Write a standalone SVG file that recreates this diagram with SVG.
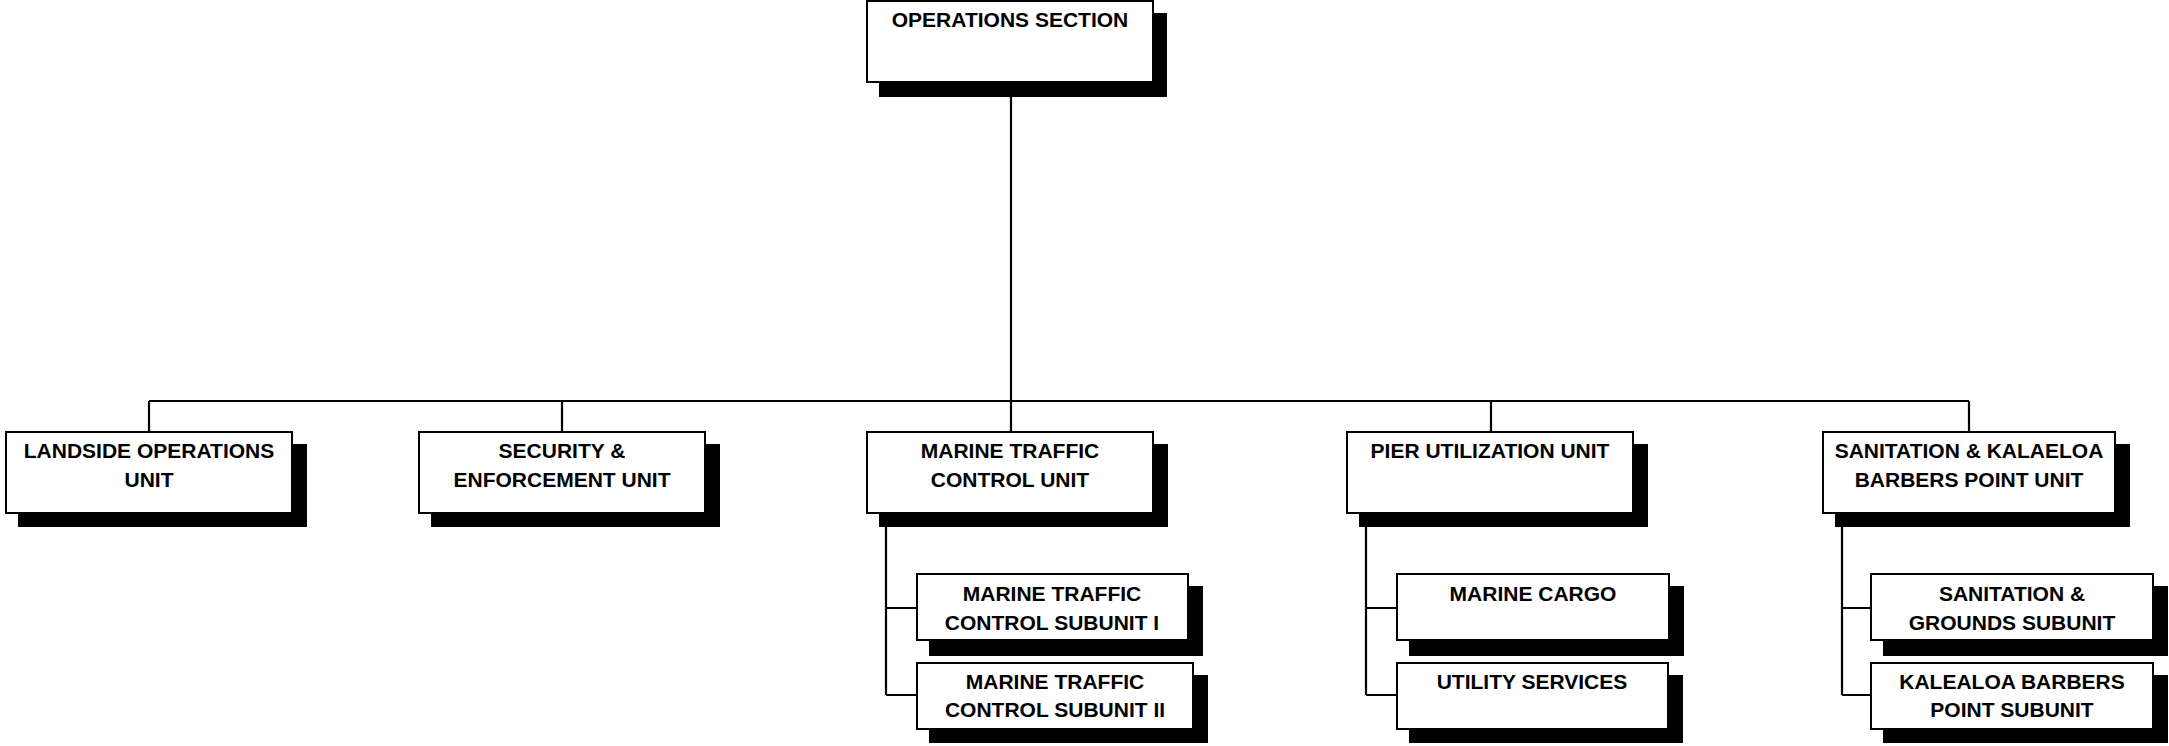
<svg xmlns="http://www.w3.org/2000/svg" width="2169" height="746" viewBox="0 0 2169 746">
<style>
.box{fill:#fff;stroke:#000;stroke-width:2}
.sh{fill:#000}
.ln{fill:none;stroke:#000;stroke-width:2.2}
text{font-family:"Liberation Sans",Arial,sans-serif;font-weight:bold;font-size:21px;text-anchor:middle;fill:#000}
</style>
<rect width="2169" height="746" fill="#fff"/>
<g id="connectors">
<path class="ln" d="M1011,82 V401 M149,401 H1969 M149,401 V432 M562,401 V432 M1011,401 V432 M1491,401 V432 M1969,401 V432"/>
<path class="ln" d="M886,513 V695 M886,608 H917 M886,695 H917"/>
<path class="ln" d="M1366,513 V695 M1366,608 H1397 M1366,695 H1397"/>
<path class="ln" d="M1842,513 V695 M1842,608 H1871 M1842,695 H1871"/>
</g>
<g id="ops">
<rect class="sh" x="879" y="13" width="288" height="84"/>
<rect class="box" x="867" y="1" width="286" height="81"/>
<text x="1010" y="27">OPERATIONS SECTION</text>
</g>
<g id="landside">
<rect class="sh" x="18" y="444" width="289" height="83"/>
<rect class="box" x="6" y="432" width="286" height="81"/>
<text x="149" y="458">LANDSIDE OPERATIONS</text>
<text x="149" y="487">UNIT</text>
</g>
<g id="security">
<rect class="sh" x="431" y="444" width="289" height="83"/>
<rect class="box" x="419" y="432" width="286" height="81"/>
<text x="562" y="458">SECURITY &amp;</text>
<text x="562" y="487">ENFORCEMENT UNIT</text>
</g>
<g id="mtcu">
<rect class="sh" x="879" y="444" width="289" height="83"/>
<rect class="box" x="867" y="432" width="286" height="81"/>
<text x="1010" y="458">MARINE TRAFFIC</text>
<text x="1010" y="487">CONTROL UNIT</text>
</g>
<g id="puu">
<rect class="sh" x="1359" y="444" width="289" height="83"/>
<rect class="box" x="1347" y="432" width="286" height="81"/>
<text x="1490" y="458">PIER UTILIZATION UNIT</text>
</g>
<g id="sanitation-unit">
<rect class="sh" x="1835" y="444" width="295" height="83"/>
<rect class="box" x="1823" y="432" width="292" height="81"/>
<text x="1969" y="458">SANITATION &amp; KALAELOA</text>
<text x="1969" y="487">BARBERS POINT UNIT</text>
</g>
<g id="mtcs1">
<rect class="sh" x="929" y="586" width="274" height="70"/>
<rect class="box" x="917" y="574" width="271" height="66"/>
<text x="1052" y="601">MARINE TRAFFIC</text>
<text x="1052" y="630">CONTROL SUBUNIT I</text>
</g>
<g id="mtcs2">
<rect class="sh" x="929" y="675" width="279" height="68"/>
<rect class="box" x="917" y="663" width="276" height="66"/>
<text x="1055" y="689">MARINE TRAFFIC</text>
<text x="1055" y="717">CONTROL SUBUNIT II</text>
</g>
<g id="cargo">
<rect class="sh" x="1409" y="586" width="275" height="70"/>
<rect class="box" x="1397" y="574" width="272" height="66"/>
<text x="1533" y="601">MARINE CARGO</text>
</g>
<g id="utility">
<rect class="sh" x="1409" y="675" width="274" height="68"/>
<rect class="box" x="1397" y="663" width="271" height="66"/>
<text x="1532" y="689">UTILITY SERVICES</text>
</g>
<g id="sanitation-grounds">
<rect class="sh" x="1883" y="586" width="285" height="70"/>
<rect class="box" x="1871" y="574" width="282" height="66"/>
<text x="2012" y="601">SANITATION &amp;</text>
<text x="2012" y="630">GROUNDS SUBUNIT</text>
</g>
<g id="kalealoa">
<rect class="sh" x="1883" y="675" width="285" height="68"/>
<rect class="box" x="1871" y="663" width="282" height="66"/>
<text x="2012" y="689">KALEALOA BARBERS</text>
<text x="2012" y="717">POINT SUBUNIT</text>
</g>
</svg>
